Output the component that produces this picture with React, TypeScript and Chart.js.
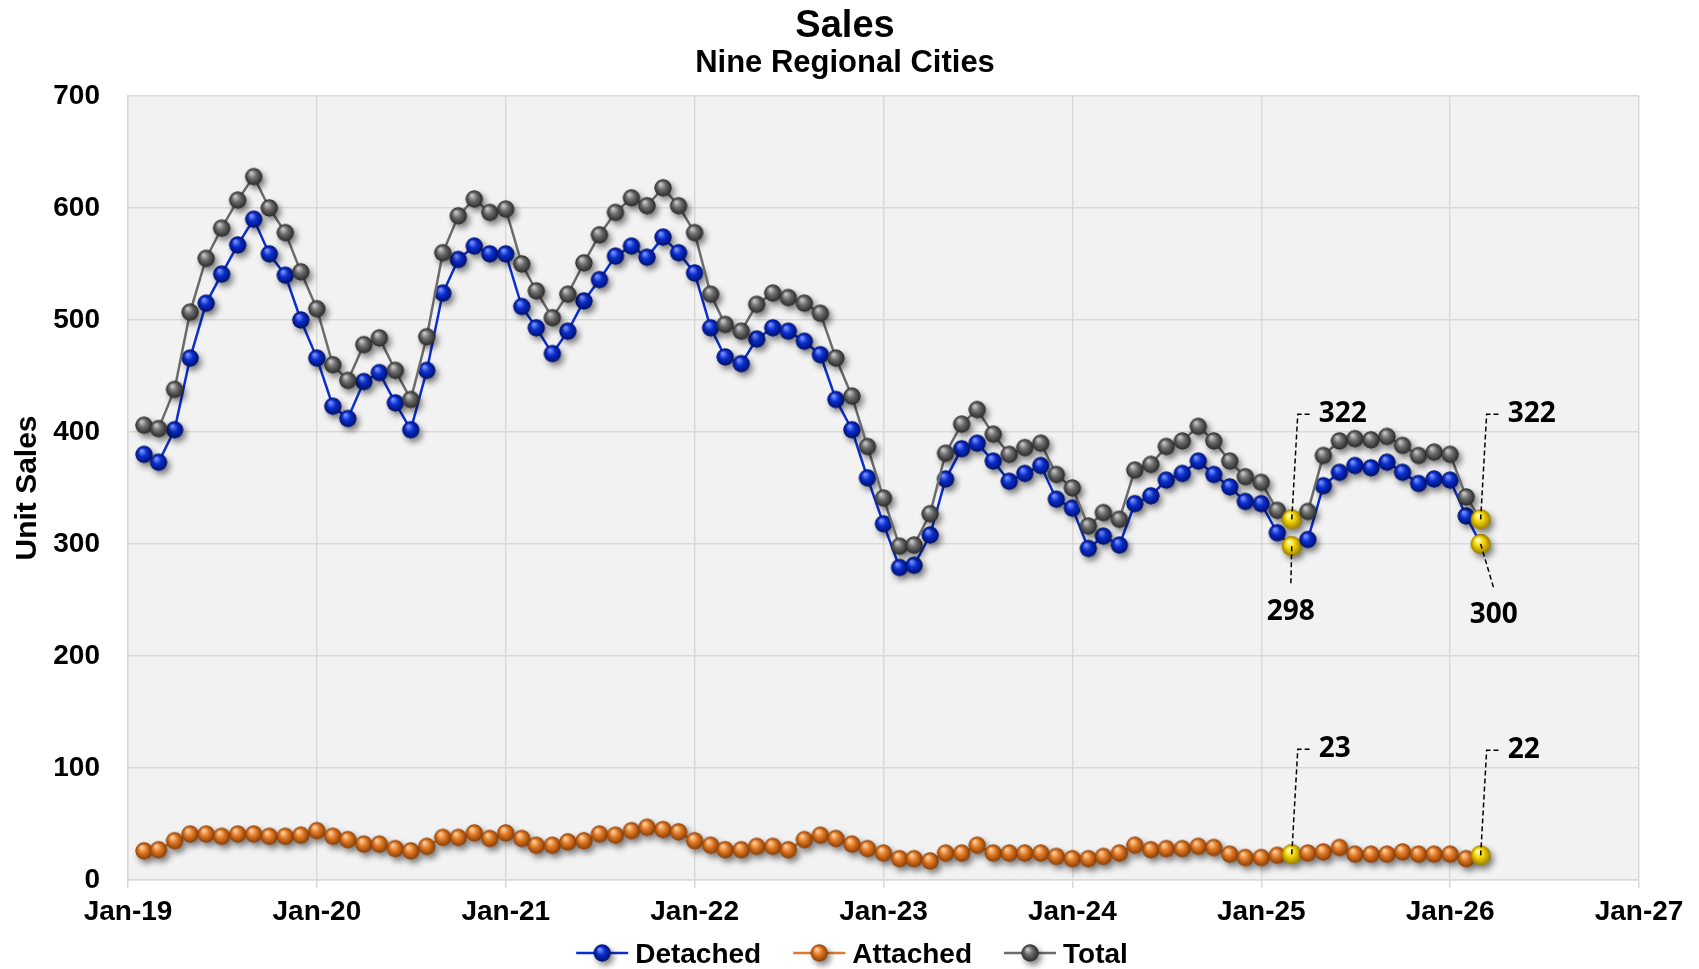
import React, { useEffect, useRef } from "react";
import { Chart, registerables } from "chart.js";

Chart.register(...registerables);

// ---------- DATA ----------
const startYear = 2019;
const seriesNames = ["Detached", "Attached", "Total"];

const detached = [
  380, 373, 402, 466, 515, 541, 567, 590, 559, 540, 500, 466,
  423, 412, 445, 453, 426, 402, 455, 524, 554, 566, 559, 559,
  512, 493, 470, 490, 517, 536, 557, 566, 556, 574, 560, 542,
  493, 467, 461, 483, 493, 490, 481, 469, 429, 402, 359, 318,
  279, 281, 308, 358, 385, 390, 374, 356, 363, 370, 340, 332,
  296, 307, 299, 336, 343, 357, 363, 374, 362, 351, 338, 336,
  310, 298, 304, 352, 364, 370, 368, 373, 364, 354, 358, 357,
  325, 300,
];

const attached = [
  26, 27, 35, 41, 41, 39, 41, 41, 39, 39, 40, 44,
  39, 36, 32, 32, 28, 26, 30, 38, 38, 42, 37, 42,
  37, 31, 31, 34, 35, 41, 40, 44, 47, 45, 43, 35,
  31, 27, 27, 30, 30, 27, 36, 40, 37, 32, 28, 24,
  19, 19, 17, 24, 24, 31, 24, 24, 24, 24, 21, 19,
  19, 21, 24, 31, 27, 28, 28, 30, 29, 23, 20, 20,
  22, 23, 24, 25, 29, 23, 23, 23, 25, 23, 23, 23,
  19, 22,
];

const total = [
  406, 403, 438, 507, 555, 582, 607, 628, 600, 578, 543, 510,
  460, 446, 478, 484, 455, 429, 485, 560, 593, 608, 596, 599,
  550, 526, 502, 523, 551, 576, 596, 609, 602, 618, 602, 578,
  523, 496, 490, 514, 524, 520, 515, 506, 466, 432, 387, 341,
  298, 299, 327, 381, 407, 420, 398, 380, 386, 390, 362, 350,
  316, 328, 322, 366, 371, 387, 392, 405, 392, 374, 360, 355,
  330, 322, 329, 379, 392, 394, 393, 396, 388, 379, 382, 380,
  342, 322,
];

const xTickLabels = ["Jan-19", "Jan-20", "Jan-21", "Jan-22", "Jan-23", "Jan-24", "Jan-25", "Jan-26", "Jan-27"];
const highlightIdx = [73, 85]; // Feb-25, Feb-26

// month-end position on a year axis (categories: monthly, Jan-19 .. Feb-26)
const monthPos = (i: number) => {
  const y = startYear + Math.floor(i / 12);
  const m = i % 12;
  const dayOfYear = (Date.UTC(y, m + 1, 0) - Date.UTC(y, 0, 1)) / 86400000 + 1;
  const days = (Date.UTC(y + 1, 0, 1) - Date.UTC(y, 0, 1)) / 86400000;
  return y + dayOfYear / days;
};
const toPoints = (arr: number[]) => arr.map((v, i) => ({ x: monthPos(i), y: v }));

// ---------- STYLE ----------
const FONT = '"Liberation Sans", Arial, sans-serif';
const LABEL_FONT = '"Open Sans", "Noto Sans", sans-serif';
const colors = {
  detached: { line: "#0a2fd0", base: "#0b2fd0", light: "#7a94ff", dark: "#00106a" },
  attached: { line: "#e07a30", base: "#e27a26", light: "#ffd2a0", dark: "#8a3e06" },
  total: { line: "#6b6b6b", base: "#6c6c6c", light: "#c8c8c8", dark: "#2a2a2a" },
  yellow: { base: "#f5d500", light: "#ffffb8", dark: "#9a7e00" },
};

function makeBall(c: { base: string; light: string; dark: string }, r = 8.5) {
  const size = 44;
  const cv = document.createElement("canvas");
  cv.width = size;
  cv.height = size;
  const g = cv.getContext("2d")!;
  const cx = size / 2, cy = size / 2;
  g.save();
  g.shadowColor = "rgba(0,0,0,0.5)";
  g.shadowBlur = 6;
  g.shadowOffsetX = 3;
  g.shadowOffsetY = 4;
  g.beginPath();
  g.arc(cx, cy, r, 0, Math.PI * 2);
  g.fillStyle = c.dark;
  g.fill();
  g.restore();
  const grad = g.createRadialGradient(cx - r * 0.3, cy - r * 0.45, r * 0.08, cx, cy, r);
  grad.addColorStop(0, c.light);
  grad.addColorStop(0.45, c.base);
  grad.addColorStop(1, c.dark);
  g.beginPath();
  g.arc(cx, cy, r, 0, Math.PI * 2);
  g.fillStyle = grad;
  g.fill();
  return cv;
}

export default function App() {
  const ref = useRef<HTMLCanvasElement | null>(null);

  useEffect(() => {
    document.body.style.margin = "0";
    const canvas = ref.current!;
    const balls = {
      detached: makeBall(colors.detached),
      attached: makeBall(colors.attached),
      total: makeBall(colors.total),
      yellow: makeBall(colors.yellow, 10),
    };
    const styleFor = (ball: HTMLCanvasElement) => (ctx: any) =>
      highlightIdx.includes(ctx.dataIndex) ? balls.yellow : ball;

    const labelSpecs = [
      { ds: 2, idx: 73, kind: "above", dx: 0, dy: 0 },
      { ds: 0, idx: 73, kind: "below", dx: -1, dy: 66 },
      { ds: 1, idx: 73, kind: "above", dx: 0, dy: 0 },
      { ds: 2, idx: 85, kind: "above", dx: 0, dy: 0 },
      { ds: 0, idx: 85, kind: "below", dx: 13, dy: 71 },
      { ds: 1, idx: 85, kind: "above", dx: 0, dy: 0 },
    ];
    const seriesData = [detached, attached, total];

    const overlay = {
      id: "overlay",
      beforeDraw(chart: any) {
        const { ctx, chartArea: a } = chart;
        ctx.save();
        ctx.fillStyle = "#ffffff";
        ctx.fillRect(0, 0, chart.width, chart.height);
        ctx.fillStyle = "#f2f2f2";
        ctx.fillRect(a.left, a.top, a.right - a.left, a.bottom - a.top);
        ctx.restore();
      },
      afterDatasetsDraw(chart: any) {
        const ctx = chart.ctx;
        ctx.save();
        ctx.strokeStyle = "#000";
        ctx.lineWidth = 1.5;
        ctx.setLineDash([5, 3]);
        ctx.fillStyle = "#000";
        ctx.font = `700 28px ${LABEL_FONT}`;
        ctx.textBaseline = "middle";
        for (const s of labelSpecs) {
          const el = chart.getDatasetMeta(s.ds).data[s.idx];
          const px = el.x, py = el.y;
          const text = String(seriesData[s.ds][s.idx]);
          if (s.kind === "above") {
            const ty = py - 105;
            ctx.beginPath();
            ctx.moveTo(px, py);
            ctx.lineTo(px + 6, ty);
            ctx.lineTo(px + 19, ty);
            ctx.stroke();
            ctx.textAlign = "left";
            ctx.fillText(text, px + 27, ty);
          } else {
            ctx.beginPath();
            ctx.moveTo(px, py);
            ctx.lineTo(px + s.dx, py + s.dy - 27);
            ctx.stroke();
            ctx.textAlign = "center";
            ctx.fillText(text, px + s.dx, py + s.dy);
          }
        }
        ctx.restore();
      },
      afterDraw(chart: any) {
        const ctx = chart.ctx;
        ctx.save();
        ctx.fillStyle = "#000";
        ctx.textAlign = "center";
        ctx.textBaseline = "alphabetic";
        ctx.font = `bold 38px ${FONT}`;
        ctx.fillText("Sales", 845, 37);
        ctx.font = `bold 31px ${FONT}`;
        ctx.fillText("Nine Regional Cities", 845, 72);

        // legend
        ctx.font = `bold 28px ${FONT}`;
        const items = [
          { name: seriesNames[0], c: colors.detached.line, ball: balls.detached },
          { name: seriesNames[1], c: colors.attached.line, ball: balls.attached },
          { name: seriesNames[2], c: colors.total.line, ball: balls.total },
        ];
        const lineLen = 52, gapText = 7, gapItem = 32;
        let w = 0;
        items.forEach((it, i) => {
          w += lineLen + gapText + ctx.measureText(it.name).width + (i < items.length - 1 ? gapItem : 0);
        });
        let x = 852 - w / 2;
        const ly = 953;
        ctx.textAlign = "left";
        ctx.textBaseline = "alphabetic";
        for (const it of items) {
          ctx.setLineDash([]);
          ctx.strokeStyle = it.c;
          ctx.lineWidth = 2.5;
          ctx.beginPath();
          ctx.moveTo(x, ly);
          ctx.lineTo(x + lineLen, ly);
          ctx.stroke();
          ctx.drawImage(it.ball, x + lineLen / 2 - it.ball.width / 2, ly - it.ball.height / 2);
          ctx.fillStyle = "#000";
          ctx.fillText(it.name, x + lineLen + gapText, 963);
          x += lineLen + gapText + ctx.measureText(it.name).width + gapItem;
        }
        ctx.restore();
      },
    };

    const mkDs = (label: string, data: number[], c: any, ball: HTMLCanvasElement, order: number) => ({
      label,
      data: toPoints(data),
      borderColor: c.line,
      backgroundColor: c.line,
      borderWidth: 2.5,
      pointStyle: styleFor(ball),
      pointRadius: 8,
      pointHoverRadius: 8,
      tension: 0,
      order,
    });

    const chart = new Chart(canvas, {
      type: "line",
      data: {
        datasets: [
          mkDs(seriesNames[0], detached, colors.detached, balls.detached, 3),
          mkDs(seriesNames[1], attached, colors.attached, balls.attached, 2),
          mkDs(seriesNames[2], total, colors.total, balls.total, 1),
        ],
      },
      options: {
        responsive: false,
        animation: false,
        events: [],
        layout: { padding: { top: 96, right: 60, bottom: 44, left: 0 } },
        plugins: { legend: { display: false }, title: { display: false }, tooltip: { enabled: false } },
        scales: {
          x: {
            type: "linear",
            min: 2019,
            max: 2027,
            afterFit: (s: any) => { s.height = 45; },
            ticks: {
              stepSize: 1,
              autoSkip: false,
              maxRotation: 0,
              padding: 7,
              color: "#000",
              font: { family: FONT, size: 28, weight: "bold" },
              callback: (_v: any, i: number) => xTickLabels[i],
            },
            grid: { color: "#d9d9d9", lineWidth: 1.5, tickLength: 8, tickColor: "#d9d9d9", drawTicks: true },
            border: { color: "#d9d9d9", width: 1.5 },
          },
          y: {
            min: 0,
            max: 700,
            afterFit: (s: any) => { s.width = 128; },
            ticks: {
              stepSize: 100,
              padding: 28,
              color: "#000",
              font: { family: FONT, size: 28, weight: "bold" },
            },
            grid: { color: "#d9d9d9", lineWidth: 1.5, drawTicks: false },
            border: { color: "#d9d9d9", width: 1.5 },
            title: {
              display: true,
              text: "Unit Sales",
              color: "#000",
              font: { family: FONT, size: 30, weight: "bold" },
              padding: { top: 10, bottom: 0 },
            },
          },
        },
      },
      plugins: [overlay],
    } as any);

    return () => chart.destroy();
  }, []);

  return (
    <div style={{ width: 1699, height: 969, background: "#fff" }}>
      <canvas ref={ref} width={1699} height={969} style={{ display: "block" }} />
    </div>
  );
}
